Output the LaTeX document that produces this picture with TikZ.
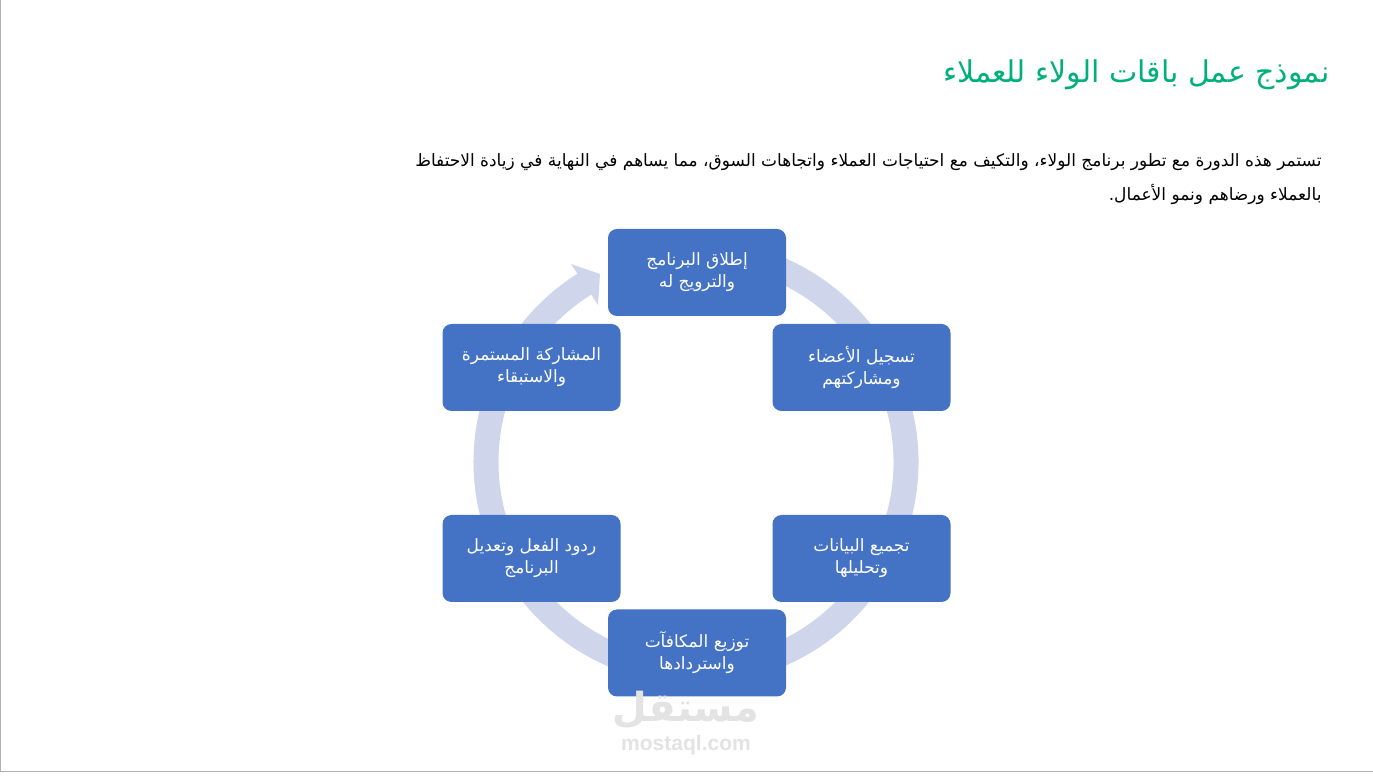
\documentclass[tikz,border=0pt]{standalone}
\usepackage{fontspec}
\TeXXeTstate=1
\newfontfamily\arabicfont[Script=Arabic]{DejaVu Sans}
\setmainfont{Liberation Sans}
\definecolor{boxblue}{HTML}{4472C4}
\definecolor{ringc}{HTML}{CFD5EA}
\definecolor{titlegreen}{HTML}{00B07A}
\begin{document}
\begin{tikzpicture}[x=1pt,y=1pt,
  cbox/.style={draw=none,fill=boxblue,rounded corners=9pt,minimum width=178pt,minimum height=87pt,text=white,align=center,font=\arabicfont\fontsize{17}{22}\selectfont}]
\useasboundingbox (0,0) rectangle (1373,776);
\draw[gray!60,line width=1pt] (0.5,776) -- (0.5,4) -- (1373,4);
% ring
\draw[ringc,line width=25pt] (696,314) ++(105:210) arc[start angle=105,end angle=-238,radius=210];
\fill[ringc] (600,502) -- (571,512) -- (598,471) -- cycle;
% title and text
\node[anchor=east,text=titlegreen,font=\arabicfont\fontsize{30}{36}\selectfont] (title) at (1333,701) {\beginR نموذج عمل باقات الولاء للعملاء\endR};
\node[anchor=north east,align=right,font=\arabicfont\fontsize{17}{34}\selectfont] (body) at (1325,626) {\beginR تستمر هذه الدورة مع تطور برنامج الولاء، والتكيف مع احتياجات العملاء واتجاهات السوق، مما يساهم في النهاية في زيادة الاحتفاظ\endR\\ \beginR بالعملاء ورضاهم ونمو الأعمال.\endR};
% boxes
\node[cbox] (b1) at (697,503.5) {\beginR إطلاق البرنامج\endR\\ \beginR والترويج له\endR};
\node[cbox] (b2) at (861.5,408.5) {\beginR تسجيل الأعضاء\endR\\ \beginR ومشاركتهم\endR};
\node[cbox] (b3) at (861.5,217.5) {\beginR تجميع البيانات\endR\\ \beginR وتحليلها\endR};
\node[cbox] (b4) at (697,123) {\beginR توزيع المكافآت\endR\\ \beginR واستردادها\endR};
\node[cbox] (b5) at (531.5,217.5) {\beginR ردود الفعل وتعديل\endR\\ \beginR البرنامج\endR};
\node[cbox] (b6) at (531.5,408.5) {\beginR المشاركة المستمرة\endR\\ \beginR والاستبقاء\endR};
% watermark
\node[text=gray!22,font=\arabicfont\bfseries\fontsize{40}{44}\selectfont] (wm) at (686,66) {\beginR مستقل\endR};
\node[text=gray!22,font=\bfseries\fontsize{21}{24}\selectfont] (wm2) at (686,31) {mostaql.com};
\end{tikzpicture}
\end{document}
